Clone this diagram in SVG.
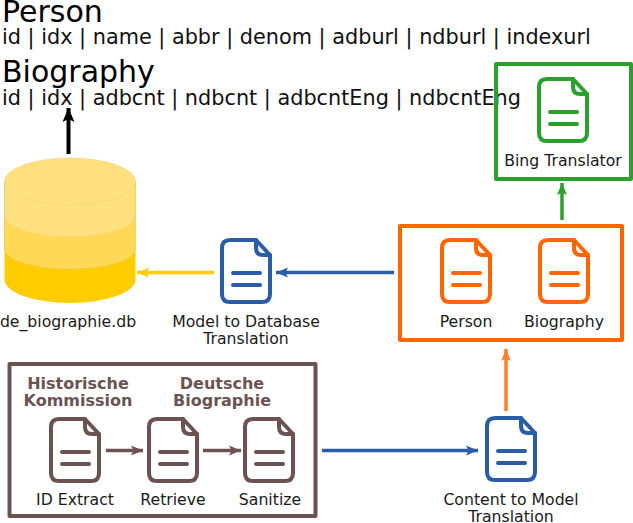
<svg xmlns="http://www.w3.org/2000/svg" xmlns:xlink="http://www.w3.org/1999/xlink" width="633" height="523" viewBox="0 0 633 523">
  <style>
    text { font-family: "DejaVu Sans", sans-serif; fill: #1a1a1a; }
    .h { font-size: 30px; fill: #000; }
    .f { font-size: 20.8px; fill: #111; }
    .l { font-size: 15.7px; text-anchor: middle; }
    .b { font-size: 16px; font-weight: bold; fill: #6c5353; text-anchor: middle; }
    .doc { fill: none; stroke-width: 4; stroke-linejoin: round; stroke-linecap: round; }
    .box { fill: none; stroke-width: 4; stroke-linejoin: round; }
    .a { fill: none; }
  </style>
  <defs>
    <g id="d">
      <path d="M8 0H34L48 15V54Q48 62 40 62H8Q0 62 0 54V8Q0 0 8 0Z"/>
      <path d="M34 0V8Q34 15 41 15H48"/>
      <path d="M11 33H38M11 45H38"/>
    </g>
    <marker id="mk" markerUnits="userSpaceOnUse" markerWidth="14" markerHeight="16" refX="14" refY="8" orient="auto"><path d="M0 2L14 8L0 14L3 8Z" fill="#000"/></marker>
    <marker id="my" markerUnits="userSpaceOnUse" markerWidth="12" markerHeight="12" refX="12" refY="6" orient="auto"><path d="M0 1L12 6L0 11L2.5 6Z" fill="#ffcc00"/></marker>
    <marker id="mb" markerUnits="userSpaceOnUse" markerWidth="12" markerHeight="12" refX="12" refY="6" orient="auto"><path d="M0 1L12 6L0 11L2.5 6Z" fill="#2a5ca8"/></marker>
    <marker id="mg" markerUnits="userSpaceOnUse" markerWidth="12" markerHeight="12" refX="12" refY="6" orient="auto"><path d="M0 1L12 6L0 11L2.5 6Z" fill="#2ca02c"/></marker>
    <marker id="mo" markerUnits="userSpaceOnUse" markerWidth="12" markerHeight="12" refX="12" refY="6" orient="auto"><path d="M0 1L12 6L0 11L2.5 6Z" fill="#ff7f2a"/></marker>
    <marker id="mn" markerUnits="userSpaceOnUse" markerWidth="12" markerHeight="12" refX="12" refY="6" orient="auto"><path d="M0 1L12 6L0 11L2.5 6Z" fill="#6c5353"/></marker>
  </defs>

  <g id="schema">
    <text class="h" x="2" y="22">Person</text>
    <text class="f" x="2" y="44">id | idx | name | abbr | denom | adburl | ndburl | indexurl</text>
    <text class="h" x="2" y="82">Biography</text>
    <text class="f" x="2" y="105">id | idx | adbcnt | ndbcnt | adbcntEng | ndbcntEng</text>
  </g>

  <g id="bing">
    <rect class="box" x="496" y="64" width="135" height="115" stroke="#2ca02c"/>
    <use xlink:href="#d" href="#d" x="539" y="79" class="doc" stroke="#2ca02c"/>
    <text class="l" x="563" y="166">Bing Translator</text>
  </g>

  <g id="database">
    <path d="M4.500 181.500V279.500A65.500 23.500 0 0 0 135.500 279.500V181.500Z" fill="#ffcc00"/>
    <path d="M4.500 181.500V249A65.500 20 0 0 0 135.500 249V181.500Z" fill="#ffd955" stroke="#e8c85a" stroke-width="0.5"/>
    <path d="M4.500 181.500V216A65.500 21 0 0 0 135.500 216V181.500Z" fill="#ffe07f" stroke="#e8cf70" stroke-width="0.5"/>
    <ellipse cx="70" cy="181.500" rx="65.500" ry="23.500" fill="#ffe07f" stroke="#e8cf70" stroke-width="0.5"/>
    <text class="l" x="68" y="327">de_biographie.db</text>
  </g>

  <g id="model-to-database">
    <use xlink:href="#d" href="#d" x="222" y="240" class="doc" stroke="#2a5ca8"/>
    <text class="l" x="246" y="327">Model to Database</text>
    <text class="l" x="246" y="344">Translation</text>
  </g>

  <g id="model">
    <rect class="box" x="400" y="226" width="222" height="114" stroke="#ff6600"/>
    <use xlink:href="#d" href="#d" x="442" y="240" class="doc" stroke="#ff6600"/>
    <use xlink:href="#d" href="#d" x="540" y="240" class="doc" stroke="#ff6600"/>
    <text class="l" x="466" y="327">Person</text>
    <text class="l" x="564" y="327">Biography</text>
  </g>

  <g id="sources">
    <rect class="box" x="9.500" y="364" width="306" height="152" stroke="#6c5353"/>
    <text class="b" x="78" y="389">Historische</text>
    <text class="b" x="78" y="406">Kommission</text>
    <text class="b" x="222" y="389">Deutsche</text>
    <text class="b" x="222" y="406">Biographie</text>
    <use xlink:href="#d" href="#d" x="51" y="419" class="doc" stroke="#6c5353"/>
    <use xlink:href="#d" href="#d" x="149" y="419" class="doc" stroke="#6c5353"/>
    <use xlink:href="#d" href="#d" x="245" y="419" class="doc" stroke="#6c5353"/>
    <text class="l" x="75" y="505">ID Extract</text>
    <text class="l" x="173" y="505">Retrieve</text>
    <text class="l" x="270" y="505">Sanitize</text>
  </g>

  <g id="content-to-model">
    <use xlink:href="#d" href="#d" x="487" y="418" class="doc" stroke="#2a5ca8"/>
    <text class="l" x="511" y="505">Content to Model</text>
    <text class="l" x="511" y="522">Translation</text>
  </g>

  <g id="connectors" class="a">
    <path d="M68.500 154V108" stroke="#000" stroke-width="4" marker-end="url(#mk)"/>
    <path d="M214 272.500H137" stroke="#ffcc00" stroke-width="3.500" marker-end="url(#my)"/>
    <path d="M394 272.500H276" stroke="#2a5ca8" stroke-width="3.500" marker-end="url(#mb)"/>
    <path d="M562 220V183" stroke="#2ca02c" stroke-width="3.500" marker-end="url(#mg)"/>
    <path d="M506 411V349" stroke="#ff7f2a" stroke-width="3.500" marker-end="url(#mo)"/>
    <path d="M322 450.500H478" stroke="#2a5ca8" stroke-width="3.500" marker-end="url(#mb)"/>
    <path d="M106 450.500H143" stroke="#6c5353" stroke-width="3.500" marker-end="url(#mn)"/>
    <path d="M203 450.500H241" stroke="#6c5353" stroke-width="3.500" marker-end="url(#mn)"/>
  </g>
</svg>
